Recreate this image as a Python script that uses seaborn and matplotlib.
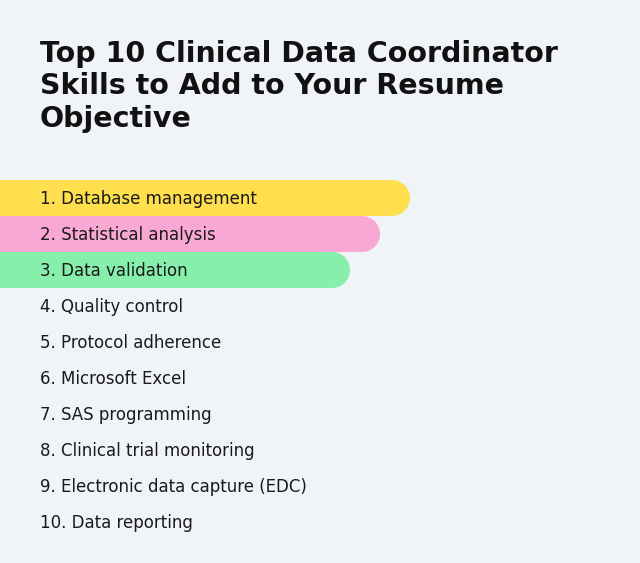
import matplotlib
matplotlib.use("Agg")
import matplotlib.pyplot as plt
import seaborn as sns
import pandas as pd
from matplotlib.patches import Ellipse

title = "Top 10 Clinical Data Coordinator\nSkills to Add to Your Resume\nObjective"
skills = ["1. Database management", "2. Statistical analysis", "3. Data validation",
          "4. Quality control", "5. Protocol adherence", "6. Microsoft Excel",
          "7. SAS programming", "8. Clinical trial monitoring",
          "9. Electronic data capture (EDC)", "10. Data reporting"]
bar_len = [410, 380, 350, 0, 0, 0, 0, 0, 0, 0]
colors = ["#FFDF4D", "#F9A8D4", "#86EFAC"] + ["#F0F3F8"] * 7

bg = "#F0F3F8"
fig = plt.figure(figsize=(6.4, 5.63), dpi=100, facecolor=bg)
ax = fig.add_axes([0, 0, 1, 1], facecolor=bg)
df = pd.DataFrame({"skill": skills, "len": bar_len})
sns.barplot(data=df, x="len", y="skill", orient="h", order=skills,
            palette=colors, hue="skill", legend=False, width=1.0,
            saturation=1, ax=ax)
ax.set_xlim(0, 640)
ax.set_ylim((563 - 198) / 36, (0 - 198) / 36)
r = 18
for p, c in zip(list(ax.patches), colors):
    x, y, w, h = p.get_x(), p.get_y(), p.get_width(), p.get_height()
    if w > 0:
        p.set_width(w - r)
        p.set_facecolor(c)
        p.set_edgecolor("none")
        ax.add_patch(Ellipse((x + w - r, y + h / 2), 2 * r, abs(h), fc=c, ec="none"))
    else:
        p.set_visible(False)
for i, s in enumerate(skills):
    ax.text(40, i + 0.02, s, fontsize=12, fontfamily="DejaVu Sans",
            color="#1A1A1A", va="center", ha="left")
ax.text(40, (40 - 198) / 36, title, fontsize=20.5, fontweight="bold", fontfamily="DejaVu Sans",
        color="#111111", va="top", ha="left", linespacing=1.2)
ax.axis("off")
fig.savefig("out.png", dpi=100, facecolor=bg)
